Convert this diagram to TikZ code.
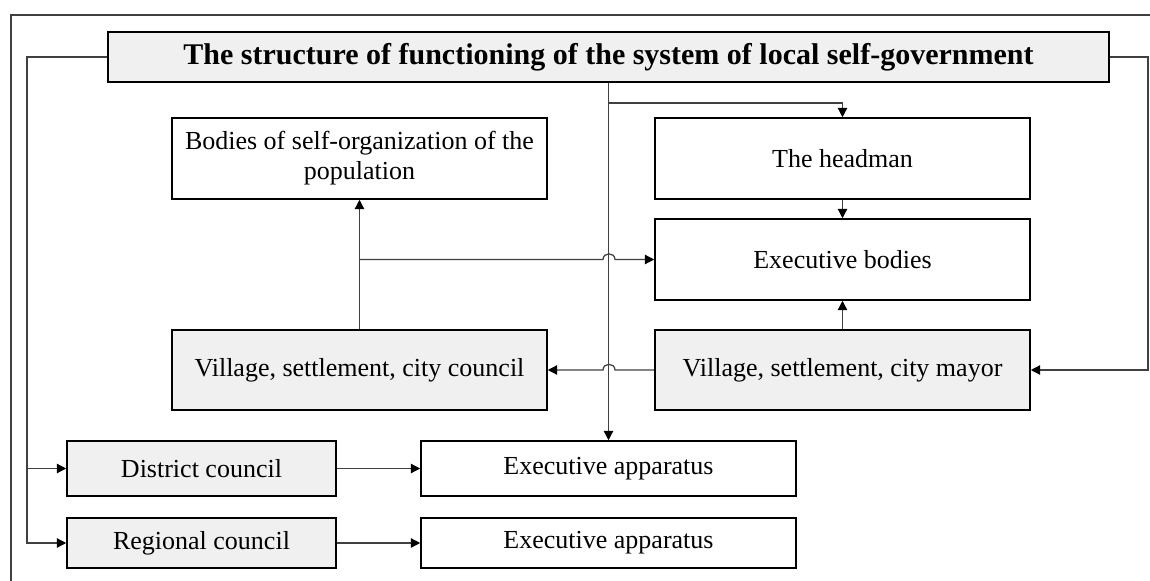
\documentclass[tikz,border=0pt]{standalone}
\usepackage{fontspec}
\setmainfont{Liberation Serif}
\usetikzlibrary{arrows.meta}
\definecolor{boxgray}{HTML}{F0F0F0}
\definecolor{linegray}{HTML}{404040}
\begin{document}
\begin{tikzpicture}[x=0.75pt,y=-0.75pt,
  box/.style={draw=black, line width=1.15pt, inner sep=0pt, align=center,
              font=\fontsize{19.5}{22.5}\selectfont},
  shaded/.style={box, fill=boxgray},
  sz/.style 2 args={minimum width=#1*0.75pt, minimum height=#2*0.75pt},
  link/.style={draw=linegray, line width=0.95pt},
  arr/.style={link, -{Triangle[length=7pt,width=7pt,fill=black,color=black]}},
]
\useasboundingbox (0,0) rectangle (1150,581);

% outer frame (top and left edges)
\draw[linegray, line width=1.3pt] (11,581) -- (11,15) -- (1150,15);

% boxes
\node[shaded, sz={1001}{50}, font=\bfseries\fontsize{22.5}{27}\selectfont] (top) at (608.5,57)
  {The structure of functioning of the system of local self-government};
\node[box, sz={375}{81}] (bodies) at (359.5,158.5) {Bodies of self-organization of the\\population};
\node[box, sz={375}{81}] (head) at (842.5,158.5) {The headman};
\node[box, sz={375}{81}] (exec) at (842.5,259.5) {Executive bodies};
\node[shaded, sz={375}{80}] (council) at (359.5,370) {Village, settlement, city council};
\node[shaded, sz={375}{80}] (mayor) at (842.5,370) {Village, settlement, city mayor};
\node[shaded, sz={269}{55}] (district) at (201.5,468.5) {District council};
\node[shaded, sz={269}{50}] (regional) at (201.5,543) {Regional council};
\node[box, sz={375}{55}] (app1) at (608.5,468.5) {Executive apparatus};
\node[box, sz={375}{50}] (app2) at (608.5,543) {Executive apparatus};

% helper points
\coordinate (tap) at (top.south |- 0,103);
\coordinate (lcorner) at (27,57);
\coordinate (rcorner) at (1148,57);
\coordinate (split) at (council.north |- exec.west);

% central trunk
\draw[arr] (top.south) -- (app1.north);
\draw[arr] (tap) -| (head.north);
\draw[arr] (head) -- (exec);
\draw[arr] (mayor) -- (exec);
\draw[arr] (council) -- (bodies);

% lines hopping over the trunk
\draw[arr] (split) -- (603,259.5) .. controls (603,252) and (615,252) .. (615,259.5) -- (exec.west);
\draw[arr] (mayor.west) -- (615,370) .. controls (615,362.5) and (603,362.5) .. (603,370) -- (council.east);

% left bus
\draw[arr] (top.west) -- (lcorner) |- (district.west);
\draw[arr] (lcorner) |- (regional.west);

% right bus
\draw[arr] (top.east) -- (rcorner) |- (mayor.east);

% councils to their apparatus
\draw[arr] (district) -- (app1);
\draw[arr] (regional) -- (app2);
\end{tikzpicture}
\end{document}
